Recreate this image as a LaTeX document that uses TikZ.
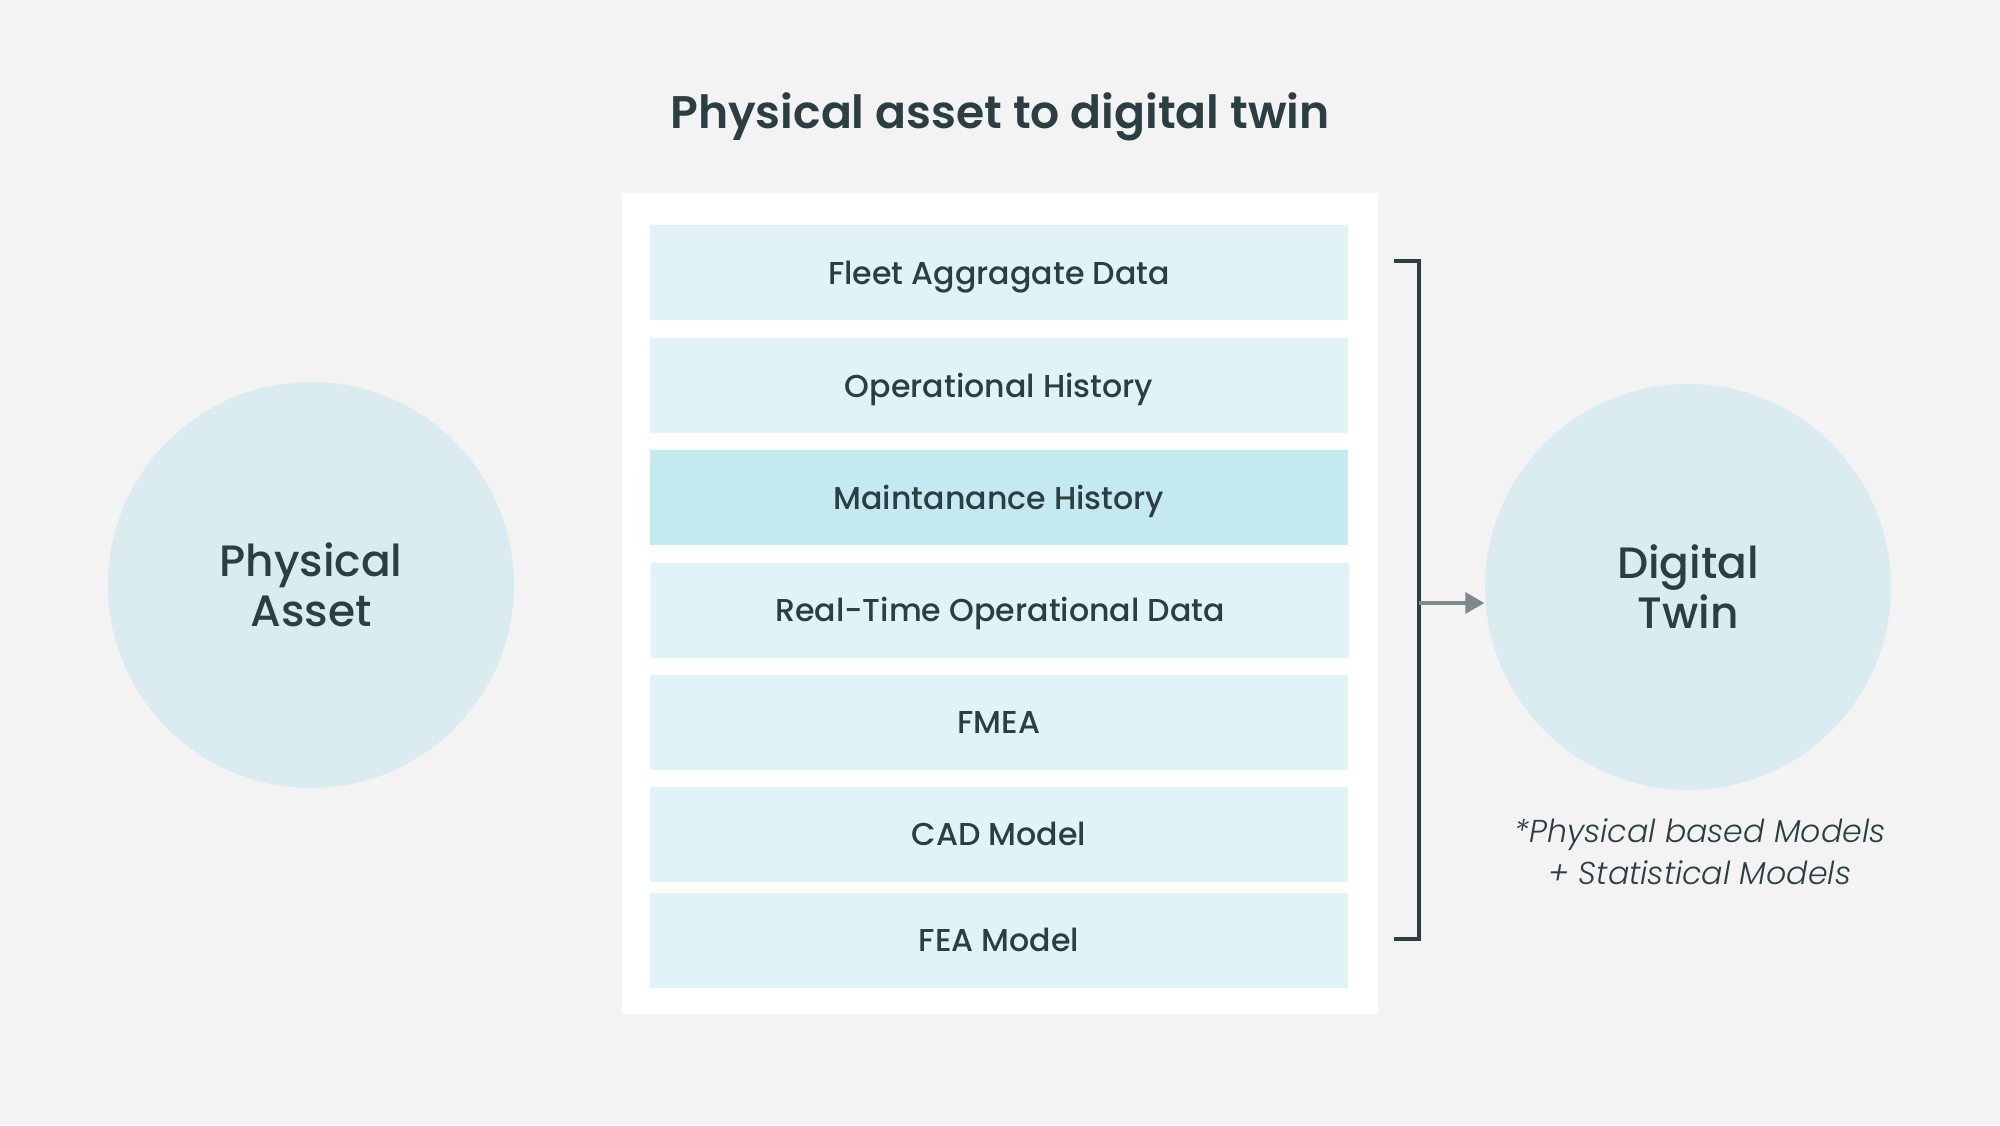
\documentclass[tikz,border=0pt]{standalone}
\usepackage{fontspec}
\setmainfont{Poppins}
\newfontfamily\medio{Poppins Medium}
\newfontfamily\semi{Poppins SemiBold}
\newfontfamily\leve{Poppins Light}[ItalicFont={Poppins Light Italic}]
\usepackage{tikz}
\usetikzlibrary{arrows.meta}
\usepackage{xcolor}
\definecolor{fundo}{HTML}{F3F3F3}
\definecolor{camada}{HTML}{E2F3F7}
\definecolor{destaque}{HTML}{C5E9F1}
\definecolor{circulo}{HTML}{DBECF0}
\definecolor{tinta}{HTML}{2B3F42}
\definecolor{seta}{HTML}{7C8A8A}

\begin{document}
\begin{tikzpicture}[
    camadabox/.style={fill=camada, minimum width=6.98cm, minimum height=0.95cm, inner sep=0pt,
        text=tinta, text height=0.68em, text depth=0pt, font=\medio\fontsize{9}{11}\selectfont},
    bola/.style={circle, fill=circulo, minimum size=4.06cm, inner sep=0pt, align=center,
        text=tinta, font=\medio\fontsize{12.5}{14.2}\selectfont}
]
    % Fundo
    \fill[fundo] (0,0) rectangle (20,11.25);
    \useasboundingbox (0,0) rectangle (20,11.25);
    % Titulo
    \node[text=tinta, font=\semi\fontsize{13}{15}\selectfont] (titulo) at (10,10.08) {Physical asset to digital twin};
    % Painel
    \fill[white] (6.22,1.11) rectangle (13.78,9.32);
    % Camadas
    \node[camadabox] (fleet) at (9.99,8.52) {Fleet Aggragate Data};
    \node[camadabox] (ophist) at (9.99,7.39) {Operational History};
    \node[camadabox, fill=destaque] (mainthist) at (9.99,6.27) {Maintanance History};
    \node[camadabox] (realtime) at (10.00,5.15) {Real-Time Operational Data};
    \node[camadabox] (fmea) at (9.99,4.03) {FMEA};
    \node[camadabox] (cad) at (9.99,2.91) {CAD Model};
    \node[camadabox] (fea) at (9.99,1.85) {FEA Model};
    % Circulos
    \node[bola] (fisico) at (3.11,5.40) {Physical\\Asset};
    \node[bola] (gemeo) at (16.88,5.38) {Digital\\Twin};
    % Colchete e seta
    \coordinate (ctopo) at (14.19,8.64);
    \coordinate (cbase) at (14.19,1.86);
    \coordinate (cmeio) at (14.19,5.22);
    \draw[tinta, line width=1.1pt] ([xshift=-0.25cm]ctopo) -- (ctopo) -- (cbase) -- ([xshift=-0.25cm]cbase);
    \draw[seta, line width=1pt, -{Triangle[length=0.19cm, width=0.21cm]}] (cmeio) -- (cmeio -| gemeo.west);
    % Nota
    \node[text=tinta, align=center, font=\leve\fontsize{9}{12}\selectfont\itshape] (nota) at (17.0,2.73)
        {*Physical based Models\\+ Statistical Models};
\end{tikzpicture}
\end{document}
